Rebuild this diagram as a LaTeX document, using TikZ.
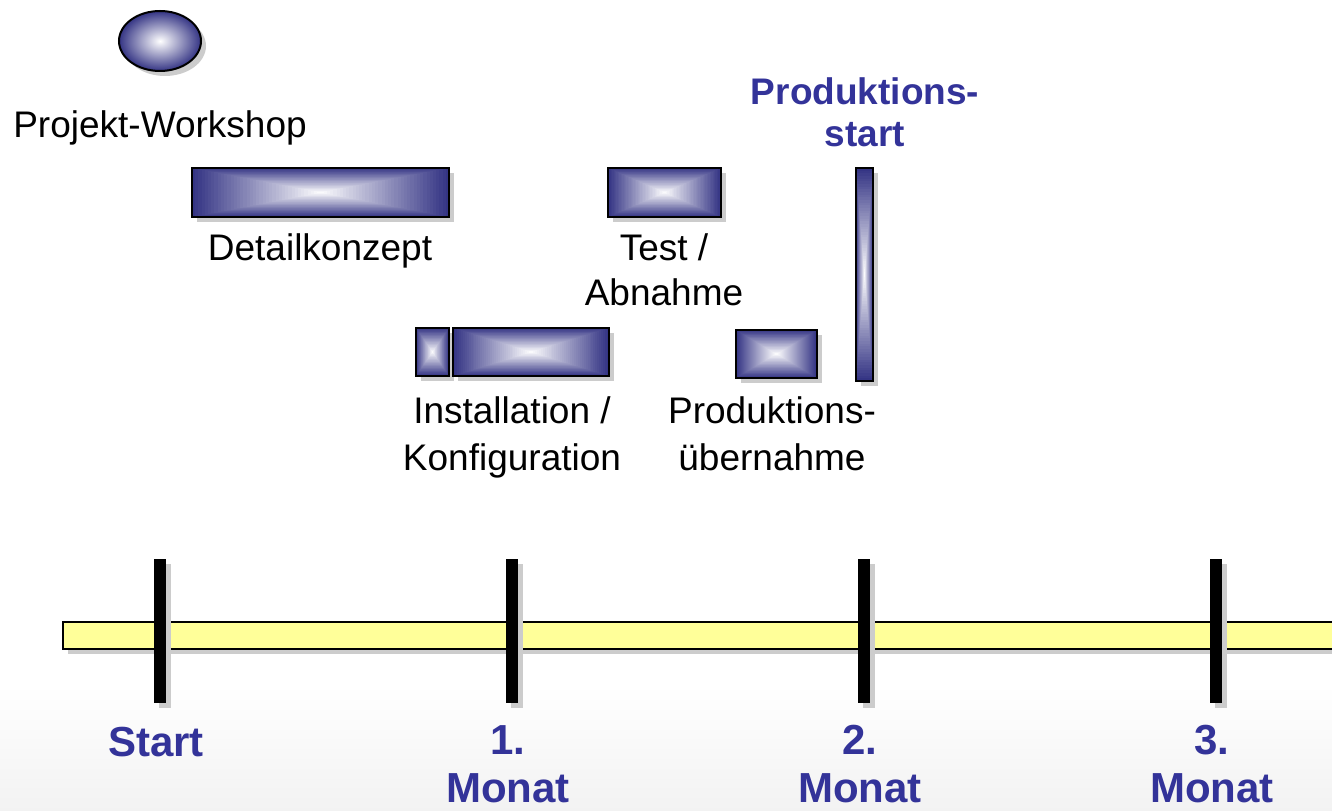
\documentclass[tikz,border=0pt]{standalone}
\usepackage{fontspec}
\setmainfont{Liberation Sans}
\usetikzlibrary{positioning,fit,calc,shapes.geometric,shadows}
\definecolor{barblue}{RGB}{52,52,132}
\definecolor{labelblue}{RGB}{51,51,153}
\definecolor{lineyellow}{RGB}{255,255,153}

\begin{document}
\begin{tikzpicture}[x=0.5pt, y=0.5pt,
    shadowed/.style={
        drop shadow={shadow xshift=2.5pt, shadow yshift=-2.5pt, fill=black!20, opacity=1}
    },
    phase/.style={
        draw, line width=1pt, inner sep=0pt, shadowed,
        path picture={
            \foreach \k in {0,...,39}{
                \pgfmathsetmacro\t{1-\k/40}
                \pgfmathsetmacro\c{100*\t}
                \fill[barblue!\c!white]
                    ($(path picture bounding box.center)!\t!(path picture bounding box.south west)$)
                    rectangle
                    ($(path picture bounding box.center)!\t!(path picture bounding box.north east)$);
            }
        }
    },
    tick/.style={fill=black, inner sep=0pt, shadowed},
    lbl/.style={font=\fontsize{18.5}{23.5}\selectfont, align=center, inner sep=0pt, anchor=base},
    milestonelbl/.style={font=\fontsize{18.5}{21}\selectfont\bfseries, text=labelblue, align=center, inner sep=0pt, anchor=base},
    monthlbl/.style={font=\fontsize{21}{24}\selectfont\bfseries, text=labelblue, align=center, inner sep=0pt, anchor=base}
]

\clip (0,0) rectangle (1332,810);

% faint background at the bottom
\shade[top color=white, bottom color=black!5] (0,0) rectangle (1332,125);

% Timeline
\node[draw, line width=0.7pt, fill=lineyellow, inner sep=0pt, shadowed,
      fit={(63,161) (1345,188)}] (timeline) {};

% (base of a two-line label = its last line)
\foreach \x/\n/\y/\txt in {160/0/54/Start, 512/1/8/{1.\\Monat}, 864/2/8/{2.\\Monat}, 1216/3/8/{3.\\Monat}}
{
    \node[tick, fit={(\x-6,107) (\x+6,251)}] (tick\n) {};
    \node[monthlbl] (month\n) at (\x-4,\y) {\txt};
}

% Workshop
\node[ellipse, draw, line width=1pt, minimum width=41pt, minimum height=30pt,
      shading=radial, inner color=white, outer color=barblue, shadowed] (workshop) at (160,769) {};
\node[lbl] (workshoplbl) at (160,672) {Projekt-Workshop};

% Phases
\node[phase, fit={(192,593) (449,642)}] (detail) {};
\node[lbl] (detaillbl) at (320,549) {Detailkonzept};

\node[phase, fit={(608,593) (721,642)}] (test) {};
\node[lbl, font=\fontsize{18.5}{22}\selectfont] (testlbl) at (664,505) {Test /\\Abnahme};

\node[phase, fit={(416,434) (449,482)}] (install) {};
\node[phase, fit={(453,434) (609,482)}] (config) {};
\node[lbl] (configlbl) at (512,340) {Installation /\\Konfiguration};

\node[phase, fit={(736,432) (817,480)}] (handover) {};
\node[lbl] (handoverlbl) at (772,340) {Produktions-\\übernahme};

% Production start
\node[phase, fit={(856,429) (873,642)}] (prodstart) {};
\node[milestonelbl] (prodstartlbl) at (865,663) {Produktions-\\start};

\end{tikzpicture}
\end{document}
